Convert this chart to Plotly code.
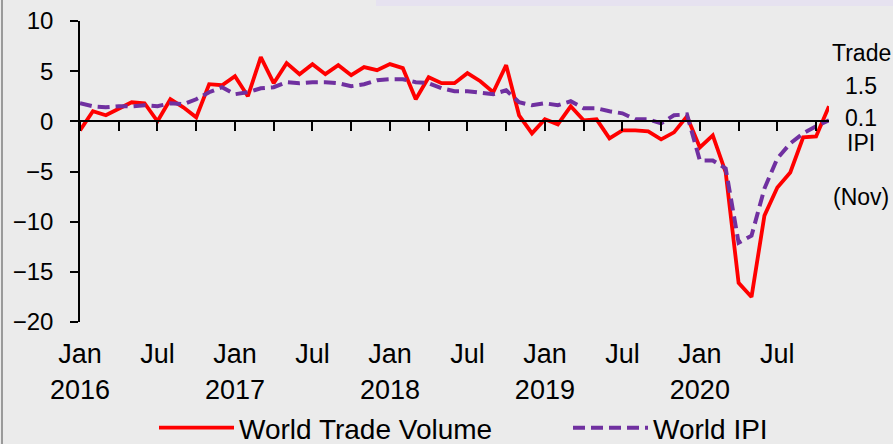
import plotly.graph_objects as go

# ---- data -------------------------------------------------------------
trade_volume = [
    -0.9, 1.0, 0.6, 1.2, 1.9, 1.8, 0.0, 2.2, 1.4, 0.4, 3.7, 3.6,      # 2016
    4.5, 2.5, 6.4, 3.8, 5.8, 4.7, 5.7, 4.7, 5.6, 4.6, 5.4, 5.1,       # 2017
    5.7, 5.3, 2.2, 4.4, 3.8, 3.8, 4.8, 4.0, 2.9, 5.6, 0.6, -1.2,      # 2018
    0.2, -0.3, 1.5, 0.1, 0.2, -1.7, -0.9, -0.9, -1.0, -1.8, -1.1, 0.5,  # 2019
    -2.6, -1.4, -5.1, -16.1, -17.5, -9.4, -6.6, -5.1, -1.6, -1.5, 1.5,  # 2020 (to Nov)
]
world_ipi = [
    1.8, 1.5, 1.4, 1.5, 1.5, 1.6, 1.5, 1.8, 1.7, 2.2, 2.9, 3.4,
    2.7, 2.9, 3.3, 3.4, 3.9, 3.8, 3.9, 3.9, 3.8, 3.5, 3.7, 4.1,
    4.2, 4.2, 3.9, 3.8, 3.3, 3.0, 3.0, 2.9, 2.7, 3.1, 1.9, 1.6,
    1.8, 1.6, 2.0, 1.3, 1.3, 1.0, 0.8, 0.2, 0.2, -0.2, 0.6, 0.7,
    -3.9, -3.9, -4.7, -12.1, -11.4, -6.7, -3.7, -2.2, -1.2, -0.5, 0.1,
]
months = list(range(len(trade_volume)))          # 0 = Jan 2016
label_months = [0, 6, 12, 18, 24, 30, 36, 42, 48, 54]
tick_labels = ["Jan<br>2016", "Jul", "Jan<br>2017", "Jul", "Jan<br>2018",
               "Jul", "Jan<br>2019", "Jul", "Jan<br>2020", "Jul"]
minor_ticks = list(range(0, 58, 3))
y_ticks = [10, 5, 0, -5, -10, -15, -20]

FONT = "Liberation Sans, Arial, sans-serif"
BG = "#ebebeb"

fig = go.Figure()
fig.add_trace(go.Scatter(
    x=months, y=trade_volume, name="World Trade Volume", mode="lines",
    line=dict(color="#ff0000", width=3.8), legend="legend",
))
fig.add_trace(go.Scatter(
    x=months, y=world_ipi, name="World IPI", mode="lines",
    line=dict(color="#7030a0", width=4, dash="12px,6px"), legend="legend2",
))
# invisible trace to carry the axis drawn at y = 0
fig.add_trace(go.Scatter(
    x=months, y=world_ipi, xaxis="x2", mode="lines", showlegend=False,
    hoverinfo="skip", line=dict(color="rgba(0,0,0,0)", width=0),
))

legend_common = dict(
    orientation="h", xref="container", yref="container",
    xanchor="left", yanchor="middle",
    font=dict(size=28, family=FONT), bgcolor="rgba(0,0,0,0)",
    itemwidth=75,
)

fig.update_layout(
    width=893, height=444,
    margin=dict(l=80, r=64, t=21, b=122, autoexpand=False),
    paper_bgcolor=BG, plot_bgcolor=BG,
    font=dict(family=FONT, color="#000000"),
    showlegend=True,
    legend=dict(x=154 / 893, y=(444 - 428) / 444, **legend_common),
    legend2=dict(x=568 / 893, y=(444 - 428) / 444, **legend_common),
    xaxis=dict(
        range=[0, 58], showgrid=False, zeroline=False, showline=False,
        automargin=False,
        tickmode="array", tickvals=label_months, ticktext=tick_labels,
        ticks="outside", ticklen=8, tickcolor="rgba(0,0,0,0)",
        tickfont=dict(size=27, family=FONT),
    ),
    xaxis2=dict(
        overlaying="x", matches="x", anchor="free", position=20 / 30,
        side="bottom", showgrid=False, zeroline=False, showline=True,
        automargin=False,
        linecolor="#000000", linewidth=1.5,
        tickmode="array", tickvals=minor_ticks, ticks="outside",
        ticklen=9, tickwidth=1.5, tickcolor="#000000", showticklabels=False,
    ),
    yaxis=dict(
        range=[-20, 10], showgrid=False, zeroline=False, showline=True,
        automargin=False,
        linecolor="#000000", linewidth=1.5,
        tickmode="array", tickvals=y_ticks, ticks="outside", ticklen=8,
        tickwidth=1.5, tickcolor="#000000",
        tickfont=dict(size=24, family=FONT), ticklabelstandoff=12,
    ),
    shapes=[
        dict(type="rect", xref="paper", yref="paper",
             x0=(376 - 80) / 749, x1=1.2, y0=1 + 15 / 301, y1=1 + 21 / 301,
             fillcolor="#e6e2f0", line=dict(width=0), layer="below"),
        dict(type="line", xref="paper", yref="paper",
             x0=-78 / 749, x1=-78 / 749, y0=-122 / 301, y1=1 + 21 / 301,
             line=dict(color="#9a9a9a", width=2)),
    ],
)

ann_font = dict(size=23, family=FONT, color="#000000")
side_texts = [
    ("Trade", 53),
    (f"{trade_volume[-1]}", 86),
    (f"{world_ipi[-1]}", 118),
    ("IPI", 143),
    ("(Nov)", 197),
]
for txt, py in side_texts:
    fig.add_annotation(
        xref="paper", yref="paper", x=1 + 32 / 749, y=1 - (py - 21) / 301,
        text=txt, showarrow=False, font=ann_font,
        xanchor="center", yanchor="middle",
    )

fig.write_html(
    "out.html",
    config={"displayModeBar": False},
    post_script="document.body.style.margin='0';"
                "document.body.style.overflow='hidden';"
                "document.body.style.background='" + BG + "';",
)
